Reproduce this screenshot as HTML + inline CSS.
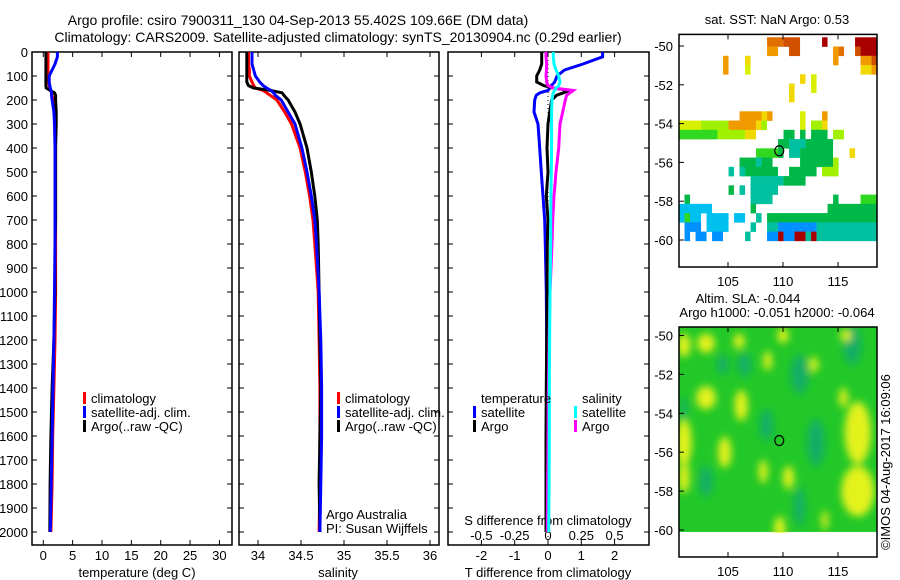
<!DOCTYPE html>
<html><head><meta charset="utf-8"><style>
html,body{margin:0;padding:0;background:#fff;}
svg{display:block;font-family:"Liberation Sans",sans-serif;font-size:13px;}
</style></head><body>
<svg id="chart" width="900" height="580" viewBox="0 0 900 580">
<defs><filter id="blur" x="-50%" y="-50%" width="200%" height="200%"><feGaussianBlur stdDeviation="4"/></filter>
<clipPath id="clipMap2"><rect x="679" y="327" width="198" height="206"/></clipPath></defs>
<text x="298" y="25" text-anchor="middle" font-size="14">Argo profile: csiro 7900311_130 04-Sep-2013 55.402S 109.66E (DM data)</text>
<text x="338" y="42" text-anchor="middle" font-size="14">Climatology: CARS2009. Satellite-adjusted climatology: synTS_20130904.nc (0.29d earlier)</text>
<text x="777" y="24" text-anchor="middle">sat. SST: NaN Argo: 0.53</text>
<text x="748" y="303" text-anchor="middle">Altim. SLA: -0.044</text>
<text x="777" y="317" text-anchor="middle">Argo h1000: -0.051 h2000: -0.064</text>
<text transform="translate(890,462) rotate(-90)" text-anchor="middle">©IMOS 04-Aug-2017 16:09:06</text>
<text x="137" y="577" text-anchor="middle">temperature (deg C)</text>
<text x="338" y="577" text-anchor="middle">salinity</text>
<text x="548" y="577" text-anchor="middle">T difference from climatology</text>
<text x="548" y="525" text-anchor="middle">S difference from climatology</text>
<text x="326" y="519">Argo Australia</text>
<text x="326" y="533">PI: Susan Wijffels</text>
</svg>
<script>
// ---- profile data ----
const depths = [0,20,50,75,100,125,140,150,160,170,180,200,250,300,400,500,600,700,800,1000,1200,1400,1600,1800,2000];
const tempClim = [0.8,0.8,0.8,0.8,0.8,0.9,1.0,1.1,1.2,1.4,1.5,1.7,1.9,2.0,2.1,2.1,2.1,2.1,2.1,2.1,2.0,1.8,1.6,1.5,1.3];
const tempSat = [2.4,2.4,2.0,1.5,1.0,1.0,1.1,1.2,1.3,1.4,1.4,1.5,1.8,1.9,2.0,2.0,2.0,2.0,2.0,1.9,1.8,1.65,1.5,1.35,1.2];
const tempArgo = [0.45,0.45,0.45,0.45,0.45,0.45,0.45,0.5,1.2,1.9,2.1,2.1,2.2,2.2,2.1,2.1,2.1,2.1,2.0,2.0,1.8,1.5,1.3,1.15,1.1];
const salClim = [33.89,33.89,33.89,33.9,33.9,33.93,33.95,33.97,34.06,34.1,34.14,34.22,34.31,34.39,34.49,34.55,34.6,34.64,34.66,34.70,34.71,34.72,34.72,34.72,34.71];
const salSat = [33.93,33.93,33.93,33.95,33.97,34.02,34.06,34.1,34.15,34.18,34.2,34.27,34.35,34.43,34.51,34.57,34.62,34.66,34.68,34.71,34.73,34.74,34.74,34.73,34.72];
const salArgo = [33.87,33.87,33.87,33.87,33.87,33.87,33.89,33.95,34.14,34.28,34.3,34.35,34.43,34.49,34.57,34.62,34.66,34.69,34.70,34.71,34.72,34.73,34.72,34.71,34.72];
const dTempSat = [1.64,1.64,1.05,0.5,0.27,0.2,0.1,0.06,0,-0.24,-0.35,-0.4,-0.42,-0.3,-0.25,-0.2,-0.15,-0.1,-0.08,-0.05,-0.04,-0.03,-0.03,-0.03,-0.03];
const dTempArgo = [-0.19,-0.19,-0.19,-0.25,-0.34,-0.34,-0.13,0.16,0.65,0.46,0.26,0.11,0.05,0,-0.03,0,-0.05,0,-0.02,-0.03,-0.04,-0.05,-0.06,-0.06,-0.06];
const dSalSat = [0.04,0.04,0.045,0.06,0.08,0.09,0.08,0.06,0.05,0.04,0.035,0.03,0.027,0.027,0.027,0.025,0.022,0.02,0.02,0.015,0.012,0.01,0.01,0.008,0.005];
const dSalArgo = [-0.015,-0.015,-0.01,-0.012,-0.015,-0.01,0,0.04,0.19,0.165,0.14,0.13,0.11,0.09,0.08,0.06,0.045,0.035,0.03,0.015,0.008,0.003,0,-0.003,-0.005];
const depthTicks = [0,100,200,300,400,500,600,700,800,900,1000,1100,1200,1300,1400,1500,1600,1700,1800,1900,2000];
const tempTicks = [0,5,10,15,20,25,30];
const salTicks = [34,34.5,35,35.5,36];
const dTempTicks = [-2,-1,0,1,2];
const dSalTicks = [-0.5,-0.25,0,0.25,0.5];
const latTicks = [-50,-52,-54,-56,-58,-60];
const lonTicks = [105,110,115];
// ---- SST map cells: [row, colStart, colEnd, colourCode] ----
const sstRuns = [[0,16,18,'O'],[0,19,21,'R'],[0,26,26,'r'],[0,32,35,'r'],
[1,16,17,'o'],[1,20,21,'R'],[1,28,28,'o'],[1,29,29,'O'],[1,32,32,'R'],[1,33,35,'r'],
[2,8,8,'o'],[2,12,12,'y'],[2,28,28,'o'],[2,33,34,'o'],[2,35,35,'R'],
[3,8,8,'o'],[3,12,12,'Y'],[3,33,34,'y'],[3,35,35,'o'],
[4,22,22,'y'],[4,24,24,'Y'],[5,20,20,'y'],[5,24,24,'Y'],[6,20,20,'y'],
[8,11,14,'o'],[8,15,15,'y'],[8,16,16,'o'],[8,22,22,'Y'],[8,26,26,'o'],
[9,0,3,'Y'],[9,4,8,'l'],[9,9,13,'o'],[9,14,14,'y'],[9,15,15,'l'],[9,22,22,'Y'],[9,24,25,'l'],[9,26,26,'y'],
[10,0,6,'g'],[10,7,11,'l'],[10,12,13,'y'],[10,19,20,'G'],[10,22,22,'G'],[10,24,26,'G'],[10,28,29,'l'],
[11,18,19,'G'],[11,20,22,'t'],[11,23,27,'G'],
[12,14,17,'g'],[12,18,18,'G'],[12,20,21,'t'],[12,22,27,'G'],[12,31,31,'y'],
[13,11,13,'G'],[13,14,14,'t'],[13,15,16,'G'],[13,22,27,'G'],[13,28,28,'l'],
[14,9,9,'t'],[14,11,11,'t'],[14,12,17,'G'],[14,20,24,'G'],[14,26,28,'l'],
[15,13,18,'t'],[15,19,22,'G'],[16,9,9,'G'],[16,11,11,'t'],[16,13,17,'t'],
[17,1,1,'G'],[17,13,16,'t'],[17,28,28,'G'],[17,33,35,'g'],
[18,0,5,'c'],[18,13,13,'G'],[18,27,35,'G'],
[19,0,3,'c'],[19,1,1,'g'],[19,5,8,'c'],[19,10,11,'c'],[19,14,14,'t'],[19,16,35,'G'],
[20,1,3,'b'],[20,5,8,'c'],[20,13,13,'t'],[20,16,17,'t'],[20,18,24,'b'],[20,25,35,'t'],
[21,1,1,'b'],[21,3,4,'b'],[21,6,7,'b'],[21,12,12,'t'],[21,16,17,'b'],[21,18,18,'r'],[21,19,20,'b'],[21,21,22,'r'],[21,23,23,'t'],[21,24,24,'r'],[21,25,35,'t']];
const sstColours = {r:'#a80000',R:'#d05000',O:'#e07000',o:'#f09a00',y:'#f0d800',Y:'#d8f000',l:'#a0f000',g:'#30d820',G:'#00b848',t:'#00c0a0',c:'#00c0f0',b:'#0090ff'};
// ---- SLA map blobs: lon, lat, rx, ry (degrees) ----
const yBlobLon = [103,101,103,106.2,104.7,101,101,116.8,116.8,108.2,110.5,109.7,108.6,110,115.7,112.8,106,113.8,115.5];
const yBlobLat = [-50.4,-50.5,-53.2,-53.6,-56,-55.5,-57.3,-55,-58,-57,-57.3,-59.9,-51.3,-50,-50,-51.5,-50.3,-59.5,-53.2];
const yBlobRx = [0.8,0.6,0.9,0.6,0.6,0.7,0.5,1.2,1.5,0.4,0.5,0.5,0.4,0.5,0.5,0.4,0.5,0.3,0.4];
const yBlobRy = [0.5,0.6,0.6,0.8,0.8,1.2,0.8,1.6,1.3,0.6,0.6,0.6,0.5,0.4,0.3,0.4,0.4,0.5,0.5];
const tBlobLon = [116.3,111.5,108.5,111.5,101,106.5,113,104.5,103];
const tBlobLat = [-50.5,-52,-54.6,-58.8,-53.8,-51.5,-55.5,-51.5,-57.5];
const tBlobRx = [0.8,0.8,0.6,0.5,0.3,0.6,0.8,0.5,0.6];
const tBlobRy = [1.0,1.0,0.8,1.0,0.6,0.6,1.2,0.5,0.8];
const floatLon = 109.66, floatLat = -55.4;

const NS='http://www.w3.org/2000/svg';
const svg=document.getElementById('chart');
function mk(tag,attrs,parent){const e=document.createElementNS(NS,tag);for(const k in attrs)e.setAttribute(k,attrs[k]);(parent||svg).appendChild(e);return e;}

const yD=d=>52+d*0.24;
const xT=t=>43.3+t*5.87;
const xS=s=>258+(s-34)*86;
const xDT=t=>548+t*33.3;
const xDS=s=>548+s*133.2;
const lonX=lon=>783+(lon-110)*11;
const latY1=lat=>46+(-50-lat)*19.4;
const latY2=lat=>335.5+(-50-lat)*19.45;

// ---- SST map cells ----
const gMap1=mk('g',{});


sstRuns.forEach(r=>{
  const lon0=100.55+r[1]*0.5, lon1=100.55+(r[2]+1)*0.5;
  const lat0=-49.55-r[0]*0.477, lat1=lat0-0.477;
  const c=mk('rect',{x:lonX(lon0),y:latY1(lat0),width:lonX(lon1)-lonX(lon0),height:latY1(lat1)-latY1(lat0)+0.3,fill:sstColours[r[3]]},gMap1);
  
  
});
// ---- SLA map ----
const gMap2=mk('g',{'clip-path':'url(#clipMap2)'});


const base=mk('rect',{x:lonX(100.55),y:latY2(-49.4),width:lonX(118.55)-lonX(100.55),height:latY2(-60.1)-latY2(-49.4),fill:'#22c828'},gMap2);


const gBlur=mk('g',{filter:'url(#blur)'},gMap2);
tBlobLon.forEach((lon,i)=>{
  const e=mk('ellipse',{cx:lonX(lon),cy:latY2(tBlobLat[i]),rx:tBlobRx[i]*11,ry:tBlobRy[i]*19.45,fill:'#10a878',opacity:0.8},gBlur);
  
  
});
yBlobLon.forEach((lon,i)=>{
  const e=mk('ellipse',{cx:lonX(lon),cy:latY2(yBlobLat[i]),rx:yBlobRx[i]*11,ry:yBlobRy[i]*19.45,fill:'#e4f21a'},gBlur);
  
  
});
// map frames, ticks, markers
[[latY1,34.4,267,'sst'],[latY2,327,557,'sla']].forEach(m=>{
  const f=mk('rect',{x:679,y:m[1],width:198,height:m[2]-m[1],fill:'none',stroke:'#000','stroke-width':1.5});
  
  
  latTicks.forEach(l=>{
    const y=m[0](l);
    mk('line',{x1:679,x2:684,y1:y,y2:y,stroke:'#000'});
    const t=mk('text',{x:673,y:y+5,'text-anchor':'end'});
    t.textContent=l;
    
    
  });
  lonTicks.forEach(l=>{
    const x=lonX(l);
    mk('line',{x1:x,x2:x,y1:m[2],y2:m[2]-5,stroke:'#000'});
    mk('line',{x1:x,x2:x,y1:m[1],y2:m[1]+5,stroke:'#000'});
    const t=mk('text',{x:x,y:m[2]+19,'text-anchor':'middle'});
    t.textContent=l;
    
    
  });
  const c=mk('ellipse',{cx:lonX(floatLon),cy:m[0](floatLat),rx:4.5,ry:5,fill:'none',stroke:'#000','stroke-width':1.2});
  
  
});

// ---- profile panels ----
const panels=[[32,232,'temperature'],[239,439,'salinity'],[448,649,'difference']];
panels.forEach(p=>{
  const f=mk('rect',{x:p[0],y:52,width:p[1]-p[0],height:493,fill:'none',stroke:'#000','stroke-width':1.5});
  
  
  depthTicks.forEach(d=>{
    const y=yD(d);
    mk('line',{x1:p[0],x2:p[0]+5,y1:y,y2:y,stroke:'#000'});
    mk('line',{x1:p[1],x2:p[1]-5,y1:y,y2:y,stroke:'#000'});
  });
});
depthTicks.forEach(d=>{
  const t=mk('text',{x:28,y:yD(d)+5,'text-anchor':'end'});
  t.textContent=d;
  
  
});
function xTicks(ticks,fx,labelY,name,top){
  ticks.forEach(v=>{
    const x=fx(v);
    mk('line',{x1:x,x2:x,y1:545,y2:540,stroke:'#000'});
    if(top) mk('line',{x1:x,x2:x,y1:52,y2:57,stroke:'#000'});
    const t=mk('text',{x:x,y:labelY,'text-anchor':'middle'});
    t.textContent=v;
    
    
  });
}
xTicks(tempTicks,xT,560,'temperature-tick-label',true);
xTicks(salTicks,xS,560,'salinity-tick-label',true);
xTicks(dTempTicks,xDT,560,'t-diff-tick-label',true);
dSalTicks.forEach(v=>{
  const t=mk('text',{x:xDS(v),y:540,'text-anchor':'middle'});
  t.textContent=v;
  
  
});
const zl=mk('line',{x1:548,x2:548,y1:52,y2:545,stroke:'#000','stroke-dasharray':'1,3'});



function line(vals,fx,color,name){
  const pts=vals.map((v,i)=>fx(v).toFixed(1)+','+yD(depths[i]).toFixed(1)).join(' ');
  const l=mk('polyline',{points:pts,fill:'none',stroke:color,'stroke-width':3,'stroke-linejoin':'miter'});
  
  
}
line(tempClim,xT,'#ff0000','temperature-climatology-line');
line(tempArgo,xT,'#000000','temperature-argo-line');
line(tempSat,xT,'#0000ff','temperature-satellite-line');
line(salClim,xS,'#ff0000','salinity-climatology-line');
line(salArgo,xS,'#000000','salinity-argo-line');
line(salSat,xS,'#0000ff','salinity-satellite-line');
line(dTempSat,xDT,'#0000ff','t-diff-satellite-line');
line(dTempArgo,xDT,'#000000','t-diff-argo-line');
line(dSalArgo,xDS,'#ff00ff','s-diff-argo-line');
line(dSalSat,xDS,'#00ffff','s-diff-satellite-line');

// ---- legends ----
function legend(x,y,color,label,name){
  const r=mk('rect',{x:x,y:y-11,width:3,height:12,fill:color});
  
  
  const t=mk('text',{x:x+8,y:y});
  t.textContent=label;
  
  
}
[[83,'temperature'],[337,'salinity']].forEach(p=>{
  legend(p[0],403,'#ff0000','climatology',p[1]+'-legend-climatology');
  legend(p[0],417,'#0000ff','satellite-adj. clim.',p[1]+'-legend-satellite');
  legend(p[0],431,'#000000','Argo(..raw -QC)',p[1]+'-legend-argo');
});
const lt=mk('text',{x:481,y:403});
lt.textContent='temperature';


const ls=mk('text',{x:582,y:403});
ls.textContent='salinity';


legend(473,417,'#0000ff','satellite','diff-legend-t-satellite');
legend(473,431,'#000000','Argo','diff-legend-t-argo');
legend(574,417,'#00ffff','satellite','diff-legend-s-satellite');
legend(574,431,'#ff00ff','Argo','diff-legend-s-argo');
</script>
</body></html>
